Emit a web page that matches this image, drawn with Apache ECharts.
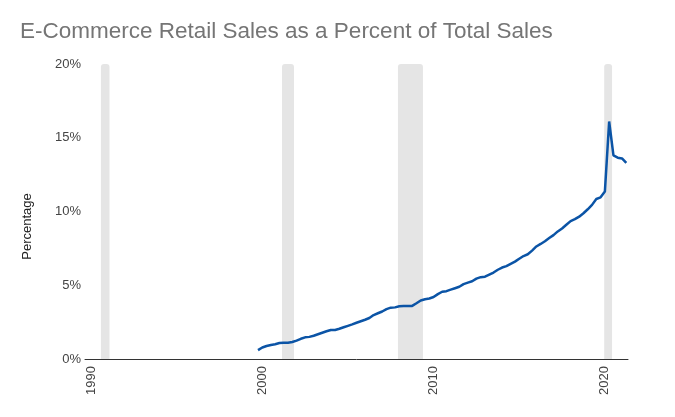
<!DOCTYPE html>
<html>
<head>
<meta charset="utf-8">
<script src="https://cdn.jsdelivr.net/npm/echarts@6/dist/echarts.min.js"></script>
<style>
html,body{margin:0;padding:0;background:#fff;}
#chart{width:675px;height:417px;}
</style>
</head>
<body>
<div id="chart"></div>
<script>
// Quarterly observations (decimal year, start of quarter)
const quarters = [
 1999.75,
 2000.0,2000.25,2000.5,2000.75,
 2001.0,2001.25,2001.5,2001.75,
 2002.0,2002.25,2002.5,2002.75,
 2003.0,2003.25,2003.5,2003.75,
 2004.0,2004.25,2004.5,2004.75,
 2005.0,2005.25,2005.5,2005.75,
 2006.0,2006.25,2006.5,2006.75,
 2007.0,2007.25,2007.5,2007.75,
 2008.0,2008.25,2008.5,2008.75,
 2009.0,2009.25,2009.5,2009.75,
 2010.0,2010.25,2010.5,2010.75,
 2011.0,2011.25,2011.5,2011.75,
 2012.0,2012.25,2012.5,2012.75,
 2013.0,2013.25,2013.5,2013.75,
 2014.0,2014.25,2014.5,2014.75,
 2015.0,2015.25,2015.5,2015.75,
 2016.0,2016.25,2016.5,2016.75,
 2017.0,2017.25,2017.5,2017.75,
 2018.0,2018.25,2018.5,2018.75,
 2019.0,2019.25,2019.5,2019.75,
 2020.0,2020.25,2020.5,2020.75,
 2021.0,2021.25
];
const ecommercePct = [
 0.6,
 0.78,0.88,0.95,1.0,
 1.08,1.1,1.1,1.15,
 1.25,1.37,1.47,1.5,
 1.58,1.68,1.78,1.88,
 1.97,1.97,2.05,2.15,
 2.25,2.35,2.46,2.56,
 2.66,2.78,2.98,3.1,
 3.22,3.38,3.48,3.5,
 3.58,3.6,3.6,3.6,
 3.78,3.97,4.05,4.1,
 4.2,4.4,4.56,4.6,
 4.7,4.8,4.9,5.08,
 5.18,5.27,5.45,5.55,
 5.58,5.72,5.86,6.05,
 6.2,6.3,6.45,6.6,
 6.8,6.98,7.1,7.35,
 7.63,7.8,7.98,8.2,
 8.4,8.65,8.85,9.1,
 9.35,9.48,9.65,9.88,
 10.15,10.45,10.85,10.96,
 11.35,16.1,13.8,13.65,
 13.6,13.3
];
// Recession shading periods
const recessionStart = [1990.58, 2001.15, 2007.92, 2019.96];
const recessionEnd   = [1991.08, 2001.85, 2009.38, 2020.42];
const xTicks = [1990, 2000, 2010, 2020];
const yTicks = [0, 5, 10, 15, 20];

const lineData = quarters.map((q, i) => [q, ecommercePct[i]]);
const recData = recessionStart.map((s, i) => [s, recessionEnd[i], 20]);

const FONT = 'Liberation Sans, Arial, sans-serif';
const chart = echarts.init(document.getElementById('chart'), null, {renderer: 'canvas'});
chart.setOption({
  animation: false,
  backgroundColor: '#ffffff',
  title: {
    text: 'E-Commerce Retail Sales as a Percent of Total Sales',
    left: 15, top: 15,
    textStyle: {fontFamily: FONT, fontSize: 22.5, fontWeight: 'normal', color: '#757575'}
  },
  grid: {left: 85, right: 47, top: 64, bottom: 58, containLabel: false},
  xAxis: {
    type: 'value',
    min: 1989.65, max: 2021.35,
    splitLine: {show: false},
    axisLine: {show: true, lineStyle: {color: '#333333', width: 1}},
    axisTick: {show: false},
    axisLabel: {
      customValues: xTicks,
      rotate: 90,
      margin: 7,
      color: '#444444',
      fontFamily: FONT,
      fontSize: 13,
      formatter: v => String(v)
    }
  },
  yAxis: {
    type: 'value',
    min: 0, max: 20, interval: 5,
    name: 'Percentage',
    nameLocation: 'middle',
    nameGap: 51,
    nameTextStyle: {fontFamily: FONT, fontSize: 13, color: '#222222', padding: [0, 30, 0, 0]},
    axisLine: {show: false},
    axisTick: {show: false},
    splitLine: {show: false},
    axisLabel: {
      margin: 4,
      color: '#444444',
      fontFamily: FONT,
      fontSize: 13,
      formatter: v => yTicks.includes(v) ? v + '%' : ''
    }
  },
  series: [
    {
      type: 'custom',
      silent: true,
      z: 1,
      data: recData,
      encode: {x: [0, 1], y: 2},
      renderItem: (params, api) => {
        const p0 = api.coord([api.value(0), api.value(2)]);
        const p1 = api.coord([api.value(1), 0]);
        return {
          type: 'rect',
          shape: {x: p0[0], y: p0[1], width: p1[0] - p0[0], height: p1[1] - p0[1], r: [3, 3, 0, 0]},
          style: {fill: '#e5e5e5'}
        };
      }
    },
    {
      type: 'line',
      z: 3,
      data: lineData,
      showSymbol: false,
      symbol: 'none',
      lineStyle: {color: '#0b54a6', width: 2.5},
      itemStyle: {color: '#0b54a6'}
    }
  ]
});
</script>
</body>
</html>
